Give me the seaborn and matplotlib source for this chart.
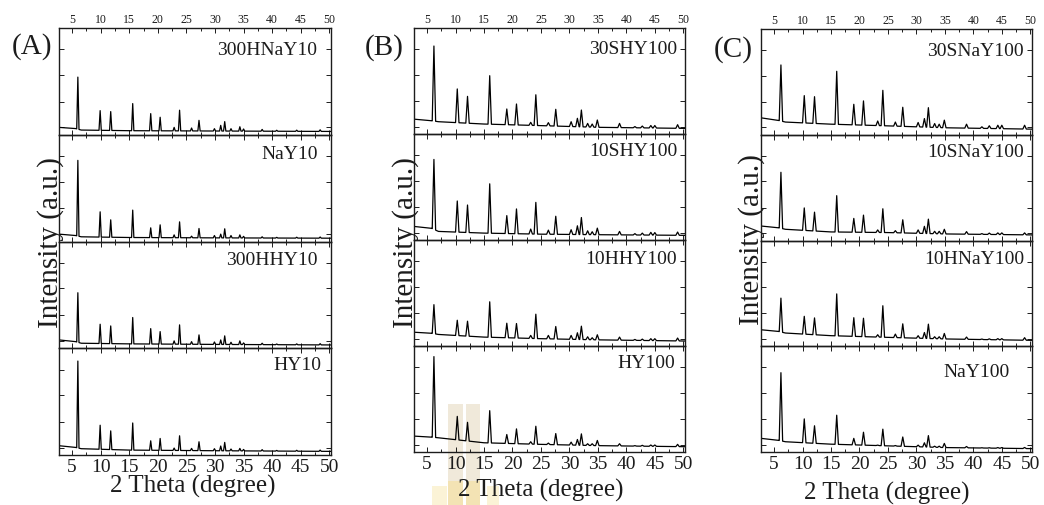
import numpy as np
import pandas as pd
import matplotlib
matplotlib.use("Agg")
import matplotlib.pyplot as plt
from matplotlib.patches import Rectangle
from matplotlib.ticker import MultipleLocator, NullFormatter
import seaborn as sns

# ---------------------------------------------------------------- data
two_theta_lim = (2.7, 50.3)

# Reflection positions (2 theta, degree)
peaks_y10 = [6.0, 9.9, 11.75, 15.6, 18.75, 20.4, 22.85, 23.8, 25.9, 27.2,
             29.9, 31.0, 31.7, 32.8, 34.35, 35.0, 38.25, 40.8, 44.3, 48.4]
peaks_y100 = [6.2, 10.3, 12.1, 16.0, 19.0, 20.7, 23.2, 24.1, 26.3, 27.6,
              30.3, 31.4, 32.1, 33.2, 34.0, 34.9, 38.8, 41.5, 42.8, 44.3,
              45.0, 49.0]

# Background knots (2 theta) shared by the patterns of one panel
bg_knots_y10 = [2.7, 5.6, 6.6, 15.0, 30.0, 50.3]
bg_knots_y100 = [2.7, 5.8, 7.0, 15.0, 25.0, 35.0, 50.3]

# Panel (A): Y10 series, top to bottom
samples_a = ["300HNaY10", "NaY10", "300HHY10", "HY10"]
bg_a = [
    [6.9, 5.8, 4.4, 3.8, 3.5, 3.1],
    [6.9, 5.6, 4.4, 3.75, 3.4, 3.1],
    [7.8, 6.2, 4.7, 4.1, 3.6, 3.1],
    [8.7, 7.1, 5.9, 4.6, 4.0, 3.4],
]
tops_a = [
    [54, 22.6, 21.7, 29.2, 19.8, 16.4, 6.9, 23.0, 6.3, 13.5,
     5.7, 8.8, 12.3, 5.7, 7.5, 5.4, 5.0, 4.2, 4.3, 4.6],
    [76, 27.8, 20.3, 29.4, 12.8, 15.6, 6.2, 18.4, 5.0, 12.2,
     5.6, 6.9, 11.9, 5.6, 6.2, 4.8, 4.4, 3.9, 4.0, 4.2],
    [52, 22.5, 20.9, 28.8, 18.4, 15.6, 6.9, 21.9, 6.2, 12.5,
     5.9, 7.8, 11.6, 5.6, 6.9, 5.0, 4.7, 4.0, 4.1, 4.3],
    [88, 27.9, 22.6, 30.0, 13.3, 15.5, 6.5, 18.0, 6.2, 12.4,
     5.9, 8.4, 11.8, 5.6, 6.2, 5.2, 5.0, 4.3, 4.4, 4.6],
]

# Panel (B): HY100 series
samples_b = ["30SHY100", "10SHY100", "10HHY100", "HY100"]
bg_b = [
    [14.0, 12.5, 11.6, 9.4, 7.9, 6.3, 5.3],
    [12.8, 11.0, 8.1, 6.5, 5.5, 5.0, 4.4],
    [13.0, 12.0, 10.9, 8.4, 6.9, 5.8, 4.7],
    [15.0, 14.0, 13.4, 8.7, 7.2, 6.0, 5.0],
]
tops_b = [
    [83, 42.5, 35.5, 55, 23.6, 28.3, 11.0, 37.0, 10.7, 23.3, 11.6,
     14.8, 22.6, 10.0, 9.4, 13.2, 10.0, 7.0, 7.5, 8.0, 8.0, 8.8],
    [76, 36.8, 33.0, 53, 23.0, 29.3, 10.3, 35.5, 9.3, 22.4, 9.7,
     13.4, 21.2, 8.7, 7.8, 11.2, 8.1, 6.0, 6.5, 7.2, 7.0, 7.5],
    [39, 24.3, 23.4, 41.7, 21.5, 21.2, 10.0, 30.0, 10.0, 18.4, 10.0,
     12.5, 18.7, 8.7, 7.8, 10.6, 8.4, 6.2, 6.5, 6.9, 6.9, 7.5],
    [90, 33.6, 28.0, 39, 16.5, 21.8, 9.7, 24.3, 8.4, 17.4, 9.3,
     11.8, 17.1, 7.8, 7.8, 10.9, 7.8, 6.0, 6.3, 6.6, 6.6, 7.2],
]

# Panel (C): NaY100 series
samples_c = ["30SNaY100", "10SNaY100", "10HNaY100", "NaY100"]
bg_c = [
    [16.0, 13.5, 12.0, 10.0, 8.4, 6.6, 5.3],
    [13.7, 12.0, 10.6, 8.1, 7.5, 6.2, 5.3],
    [15.6, 14.0, 12.5, 10.0, 8.4, 6.9, 5.6],
    [12.9, 11.0, 9.7, 7.4, 5.8, 4.2, 3.2],
]
tops_c = [
    [66, 37.0, 36.0, 60, 28.8, 32.0, 13.0, 42.0, 12.0, 26.0, 11.6,
     15.3, 25.6, 10.6, 10.0, 13.8, 10.0, 7.5, 8.5, 9.0, 9.0, 9.0],
    [64.5, 30.8, 26.8, 42.4, 20.9, 24.0, 10.0, 30.0, 9.3, 19.6, 10.0,
     13.4, 20.2, 8.7, 8.7, 10.6, 8.4, 6.5, 7.0, 7.2, 7.2, 7.2],
    [45.5, 28.3, 26.8, 49.5, 27.0, 26.5, 10.9, 38.3, 11.5, 21.2, 10.0,
     13.0, 20.9, 9.0, 9.0, 12.1, 8.7, 6.8, 7.0, 7.2, 7.2, 8.1],
    [75, 31.3, 24.8, 34.8, 12.9, 18.7, 6.5, 21.6, 6.1, 14.2, 6.5,
     8.7, 15.5, 5.5, 5.5, 8.1, 5.2, 4.0, 4.0, 4.2, 4.2, 4.3],
]

# ---------------------------------------------------------------- style
sns.set_theme(style="ticks")
plt.rcParams["font.family"] = ["Liberation Serif", "DejaVu Serif"]
INK = "#1c1c1c"

W, H = 1044, 506
fig = plt.figure(figsize=(W / 100, H / 100), dpi=100)


def px_box(x0, x1, y0, y1):
    """Figure-fraction rectangle from pixel edges (y measured from top)."""
    return [x0 / W, 1 - y1 / H, (x1 - x0) / W, (y1 - y0) / H]


def build_trace(peaks, tops, knots, levels, half_width):
    """Polyline through background knots and triangular reflections."""
    pts = []
    for k, lv in zip(knots, levels):
        if all(abs(k - p) > half_width for p in peaks):
            pts.append((k, lv))
    for p, t in zip(peaks, tops):
        for x in (p - half_width, p + half_width):
            pts.append((x, float(np.interp(x, knots, levels))))
        pts.append((p, t))
    pts.sort()
    return pd.DataFrame(pts, columns=["two_theta", "intensity"])


panels = [
    dict(tag="(A)", box=(59, 331, 29, 456), samples=samples_a, peaks=peaks_y10,
         knots=bg_knots_y10, bg=bg_a, tops=tops_a, hw=0.2,
         label_off=[(14, 22), (13, 19), (13, 18), (10, 16)],
         tag_xy=(32, 47), ylab_xy=(51, 243), xlab_xy=(193, 486)),
    dict(tag="(B)", box=(414, 685, 29, 453), samples=samples_b, peaks=peaks_y100,
         knots=bg_knots_y100, bg=bg_b, tops=tops_b, hw=0.3,
         label_off=[(8, 20), (8, 17), (8, 19), (10, 16)],
         tag_xy=(384, 48), ylab_xy=(406, 243), xlab_xy=(541, 490)),
    dict(tag="(C)", box=(761, 1032, 30, 453), samples=samples_c, peaks=peaks_y100,
         knots=bg_knots_y100, bg=bg_c, tops=tops_c, hw=0.3,
         label_off=[(8, 22), (8, 17), (8, 18), (22, 25)],
         tag_xy=(733, 50), ylab_xy=(752, 240), xlab_xy=(887, 493)),
]

# faint watermark blocks behind the middle panel
wm = [
    ((448, 463, 405, 482), "#f0e9da"),
    ((466, 480, 405, 482), "#f0e9da"),
    ((448, 463, 482, 506), "#f3e3b4"),
    ((466, 480, 482, 506), "#f3e3b4"),
    ((432, 447, 487, 506), "#fbf3d6"),
    ((487, 499, 487, 506), "#fbf3d6"),
]
for (x0, x1, y0, y1), col in wm:
    fig.add_artist(Rectangle((x0 / W, 1 - y1 / H), (x1 - x0) / W, (y1 - y0) / H,
                             transform=fig.transFigure, facecolor=col,
                             edgecolor="none", zorder=-1))

for pan in panels:
    x0, x1, y0, y1 = pan["box"]
    step = (y1 - y0) / 4
    for i, name in enumerate(pan["samples"]):
        ax = fig.add_axes(px_box(x0, x1, y0 + i * step, y0 + (i + 1) * step))
        ax.set_facecolor("none")
        df = build_trace(pan["peaks"], pan["tops"][i], pan["knots"],
                         pan["bg"][i], pan["hw"])
        sns.lineplot(data=df, x="two_theta", y="intensity", ax=ax,
                     color="black", lw=0.9, estimator=None, sort=False)
        ax.set_xlim(*two_theta_lim)
        ax.set_ylim(0, 100)
        ax.set_xlabel("")
        ax.set_ylabel("")
        ax.xaxis.set_major_locator(MultipleLocator(5))
        ax.xaxis.set_minor_locator(MultipleLocator(2.5))
        ax.set_yticks([7, 31, 56, 80])
        ax.yaxis.set_major_formatter(NullFormatter())
        ax.tick_params(which="both", direction="in", top=True, right=True,
                       width=0.7, colors=INK)
        ax.tick_params(which="major", length=3.5)
        ax.tick_params(which="minor", length=2)
        ax.tick_params(axis="x", which="major", pad=2,
                       labelbottom=(i == 3), labeltop=(i == 0))
        for s in ax.spines.values():
            s.set_linewidth(1.0)
            s.set_color(INK)
        if i == 0:
            for t in ax.xaxis.get_major_ticks():
                t.label2.set_fontsize(8.5)
        if i == 3:
            for t in ax.xaxis.get_major_ticks():
                t.label1.set_fontsize(14)
        dx, dy = pan["label_off"][i]
        ax.annotate(name, xy=(1, 1), xycoords="axes fraction",
                    xytext=(-dx, -dy), textcoords="offset pixels",
                    ha="right", va="center", fontsize=14, color=INK)

    tx, ty = pan["tag_xy"]
    fig.text(tx / W, 1 - ty / H, pan["tag"], ha="center", va="center",
             fontsize=21, color=INK)
    lx, ly = pan["ylab_xy"]
    fig.text(lx / W, 1 - ly / H, "Intensity (a.u.)", rotation=90,
             ha="center", va="center", fontsize=21, color=INK)
    bx, by = pan["xlab_xy"]
    fig.text(bx / W, 1 - by / H, "2 Theta (degree)", ha="center",
             va="center", fontsize=18, color=INK)

fig.savefig("out.png", dpi=100, facecolor="white")
